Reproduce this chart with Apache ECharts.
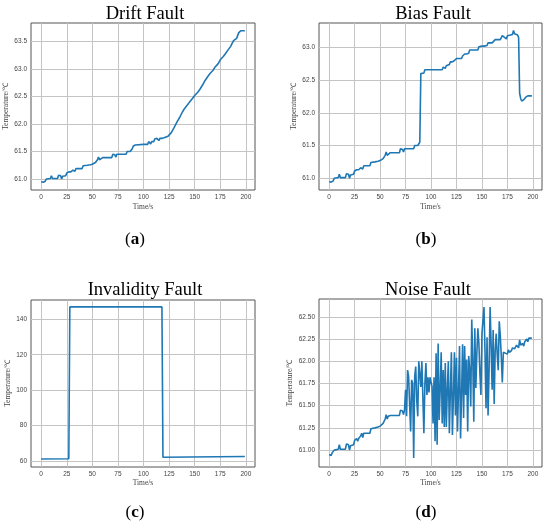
<!DOCTYPE html>
<html>
<head>
<meta charset="utf-8">
<script src="https://cdn.jsdelivr.net/npm/echarts@6/dist/echarts.min.js"></script>
<style>
  html, body { margin: 0; padding: 0; background: #fff; }
  #chart { width: 550px; height: 527px; }
</style>
</head>
<body>
<div id="chart"></div>
<script>
// tick positions / labels
const timeTicks = [0, 25, 50, 75, 100, 125, 150, 175, 200];
const driftTicks = [61.0, 61.5, 62.0, 62.5, 63.0, 63.5];
const biasTicks = [61.0, 61.5, 62.0, 62.5, 63.0];
const invalidTicks = [60, 80, 100, 120, 140];
const noiseTicks = [61.0, 61.25, 61.5, 61.75, 62.0, 62.25, 62.5];

// normal sensor signal before the faults start (same in a, b, d)
const baseTime = [0, 1, 2, 3, 4, 5, 6, 9, 10, 11, 16, 17, 19, 20, 21, 24, 25, 26, 27, 28,
  29, 31, 32, 33, 34, 40, 41, 45, 46, 48, 50, 51, 53, 55, 56, 57, 58, 60, 69, 70,
  72, 73, 74, 83, 84, 87, 88];
const baseTemp = [60.95, 60.94, 60.94, 60.97, 60.96, 61.00, 61.01, 61.01, 61.06, 61.01,
  61.01, 61.07, 61.06, 61.00, 61.05, 61.06, 61.11, 61.09, 61.13, 61.10,
  61.13, 61.16, 61.19, 61.14, 61.19, 61.19, 61.24, 61.25, 61.27, 61.26,
  61.27, 61.29, 61.30, 61.35, 61.40, 61.35, 61.38, 61.39, 61.39, 61.45,
  61.44, 61.40, 61.45, 61.45, 61.50, 61.50, 61.53];

// (a) drift
const driftTime = [89, 90, 92, 100, 104, 105, 106, 107, 108, 110, 111, 113, 115, 116, 118, 119, 120, 121, 124, 127,
  130, 133, 135, 138, 140, 143, 145, 148, 150, 153, 155, 158, 160, 163, 165, 168, 170, 173, 175, 178,
  180, 183, 185, 188, 189, 191, 193, 195, 199];
const driftTemp = [61.55, 61.60, 61.62, 61.63, 61.63, 61.68, 61.66, 61.64, 61.68, 61.68,
  61.73, 61.74, 61.70, 61.74, 61.74, 61.77, 61.75, 61.78, 61.78, 61.84,
  61.94, 62.05, 62.11, 62.22, 62.28, 62.35, 62.40, 62.47, 62.52, 62.58,
  62.63, 62.72, 62.79, 62.87, 62.92, 62.98, 63.04, 63.10, 63.17, 63.23,
  63.28, 63.36, 63.41, 63.52, 63.50, 63.56, 63.66, 63.70, 63.70];

// (b) bias
const biasTime = [89, 90, 93, 94, 107, 108, 109, 111, 112, 113, 114, 115, 118, 119, 121, 122, 123, 125, 130, 131,
  132, 133, 135, 136, 137, 138, 146, 147, 150, 151, 152, 155, 156, 157, 160, 163, 168, 169, 170, 171,
  174, 175, 176, 178, 180, 181, 182, 183, 185, 186, 187, 188, 189, 190, 191, 192, 193, 194, 195, 199];
const biasTemp = [61.55, 62.60, 62.61, 62.66, 62.66, 62.63, 62.66, 62.66, 62.70, 62.73,
  62.68, 62.72, 62.74, 62.78, 62.78, 62.75, 62.80, 62.83, 62.83, 62.87,
  62.85, 62.90, 62.90, 62.93, 62.91, 62.96, 62.96, 63.01, 63.02, 63.04,
  63.02, 63.03, 63.07, 63.05, 63.07, 63.12, 63.12, 63.15, 63.18, 63.15,
  63.13, 63.18, 63.15, 63.19, 63.20, 63.26, 63.21, 63.20, 63.19, 63.15,
  62.30, 62.22, 62.18, 62.15, 62.20, 62.18, 62.24, 62.22, 62.26, 62.26];

// (c) invalidity
const invalidTime = [0, 27, 28, 118, 119, 199];
const invalidTemp = [61.1, 61.3, 147.0, 147.0, 62.1, 62.5];

// (d) noise, base signal up to t=74 then noisy readings
const noiseTime = [75, 76, 77, 78, 79, 80, 81, 82, 83, 84, 85, 86, 87, 88, 89, 90, 91, 92, 93, 94,
  95, 96, 97, 98, 99, 100, 101, 102, 103, 104, 105, 106, 107, 108, 109, 110, 111, 112, 113, 114,
  115, 116, 117, 118, 119, 120, 121, 122, 123, 124, 125, 126, 127, 128, 129, 130, 131, 132, 133, 134,
  135, 136, 137, 138, 139, 140, 141, 142, 143, 144, 145, 146, 147, 148, 149, 150, 151, 152, 153, 154,
  155, 156, 157, 158, 159, 160, 161, 162, 163, 164, 165, 166, 167, 168, 169, 170, 171,
  172, 175, 176, 177, 179, 180, 182, 184, 186, 187, 188, 190, 191, 192, 194, 195, 196, 199];
const noiseTemp = [61.68, 61.38, 61.90, 61.83, 61.84, 61.21, 61.79, 61.75, 60.91, 61.83,
  61.94, 61.56, 61.38, 62.00, 62.00, 61.71, 62.00, 61.60, 61.19, 61.75,
  61.98, 61.62, 61.82, 61.65, 61.82, 61.76, 61.72, 61.30, 61.82, 61.10,
  62.09, 61.06, 62.20, 61.34, 61.68, 62.10, 61.30, 61.90, 61.26, 61.98,
  61.26, 61.68, 62.00, 61.19, 61.65, 62.10, 61.17, 61.60, 62.10, 61.39,
  62.04, 61.21, 61.68, 62.17, 61.13, 61.62, 62.19, 61.36, 62.17, 61.62,
  62.02, 61.21, 62.06, 61.90, 61.49, 62.47, 62.02, 61.32, 62.37, 61.70,
  62.09, 62.37, 62.20, 61.86, 61.62, 62.31, 62.29, 62.61, 62.10, 61.47,
  62.27, 61.39, 61.90, 62.61, 62.19, 61.68, 62.35, 61.52, 62.12, 62.31,
  62.07, 61.90, 62.45, 62.29, 62.05, 61.76, 62.10,
  62.08, 62.08, 62.13, 62.10, 62.12, 62.15, 62.14, 62.18, 62.15, 62.24,
  62.18, 62.20, 62.17, 62.22, 62.25, 62.22, 62.26, 62.26];

function pairs(t, v) {
  return t.map((x, i) => [x, v[i]]);
}

function baseUntil(last) {
  const out = [];
  baseTime.forEach((t, i) => { if (t <= last) out.push([t, baseTemp[i]]); });
  return out;
}

const panels = [
  { title: 'Drift Fault', tag: 'a', grid: { left: 31, top: 23, width: 224, height: 167 },
    ymin: 60.80, ymax: 63.84, ticks: driftTicks, digits: 1, nameGap: 19, xGap: 13,
    data: baseUntil(88).concat(pairs(driftTime, driftTemp)) },
  { title: 'Bias Fault', tag: 'b', grid: { left: 319, top: 23, width: 223, height: 167 },
    ymin: 60.82, ymax: 63.374, ticks: biasTicks, digits: 1, nameGap: 19, xGap: 13,
    data: baseUntil(88).concat(pairs(biasTime, biasTemp)) },
  { title: 'Invalidity Fault', tag: 'c', grid: { left: 31, top: 300, width: 224, height: 167 },
    ymin: 56.6, ymax: 150.9, ticks: invalidTicks, digits: 0, nameGap: 19, xGap: 11,
    data: pairs(invalidTime, invalidTemp) },
  { title: 'Noise Fault', tag: 'd', grid: { left: 319, top: 299, width: 223, height: 168 },
    ymin: 60.81, ymax: 62.70, ticks: noiseTicks, digits: 2, nameGap: 25, xGap: 11,
    data: baseUntil(74).concat(pairs(noiseTime, noiseTemp)) }
];

const labelColor = '#444';
const serif = '"Liberation Serif", "Times New Roman", serif';
const sans = '"Liberation Sans", Arial, sans-serif';

const grids = [], xAxes = [], yAxes = [], series = [], graphics = [];
const titleY = [14, 14, 290, 290];
const titleX = [145, 433, 145, 428];
const tagY = [240, 240, 513, 513];

panels.forEach((p, i) => {
  grids.push(Object.assign({ show: true, borderColor: '#555', borderWidth: 1, backgroundColor: '#fff' }, p.grid));
  xAxes.push({
    type: 'value', gridIndex: i, min: -9.95, max: 208.95,
    name: 'Time/s', nameLocation: 'middle', nameGap: p.xGap,
    nameTextStyle: { fontFamily: serif, fontSize: 7.5, color: labelColor },
    axisLine: { show: false },
    axisTick: { show: false, customValues: timeTicks },
    axisLabel: { customValues: timeTicks, fontFamily: sans, fontSize: 6.5, color: labelColor, margin: 4 },
    splitLine: { show: true, lineStyle: { color: '#c4c4c4', width: 1 } }
  });
  yAxes.push({
    type: 'value', gridIndex: i, min: p.ymin, max: p.ymax,
    name: 'Temperature/℃', nameLocation: 'middle', nameGap: p.nameGap,
    nameTextStyle: { fontFamily: serif, fontSize: 7.5, color: labelColor },
    axisLine: { show: false },
    axisTick: { show: false, customValues: p.ticks },
    axisLabel: {
      customValues: p.ticks, fontFamily: sans, fontSize: 6.5, color: labelColor, margin: 4,
      formatter: v => Number(v).toFixed(p.digits)
    },
    splitLine: { show: true, lineStyle: { color: '#c4c4c4', width: 1 } }
  });
  series.push({
    type: 'line', xAxisIndex: i, yAxisIndex: i, data: p.data,
    showSymbol: false, symbol: 'none',
    lineStyle: { color: '#1f77b4', width: 1.6 }
  });
  graphics.push({
    type: 'text', x: titleX[i], y: titleY[i],
    style: { text: p.title, font: '18.5px ' + serif, fill: '#000', textAlign: 'center', textVerticalAlign: 'middle' }
  });
  graphics.push({
    type: 'text', x: i % 2 === 0 ? 135 : 426, y: tagY[i],
    style: {
      text: '{p|(}{b|' + p.tag + '}{p|)}',
      textAlign: 'center', textVerticalAlign: 'middle', fill: '#000',
      rich: {
        p: { fontFamily: serif, fontSize: 17, fill: '#000' },
        b: { fontFamily: serif, fontSize: 17, fontWeight: 'bold', fill: '#000' }
      }
    }
  });
});

const chart = echarts.init(document.getElementById('chart'));
chart.setOption({
  animation: false,
  backgroundColor: '#fff',
  grid: grids,
  xAxis: xAxes,
  yAxis: yAxes,
  series: series,
  graphic: graphics
});
</script>
</body>
</html>
